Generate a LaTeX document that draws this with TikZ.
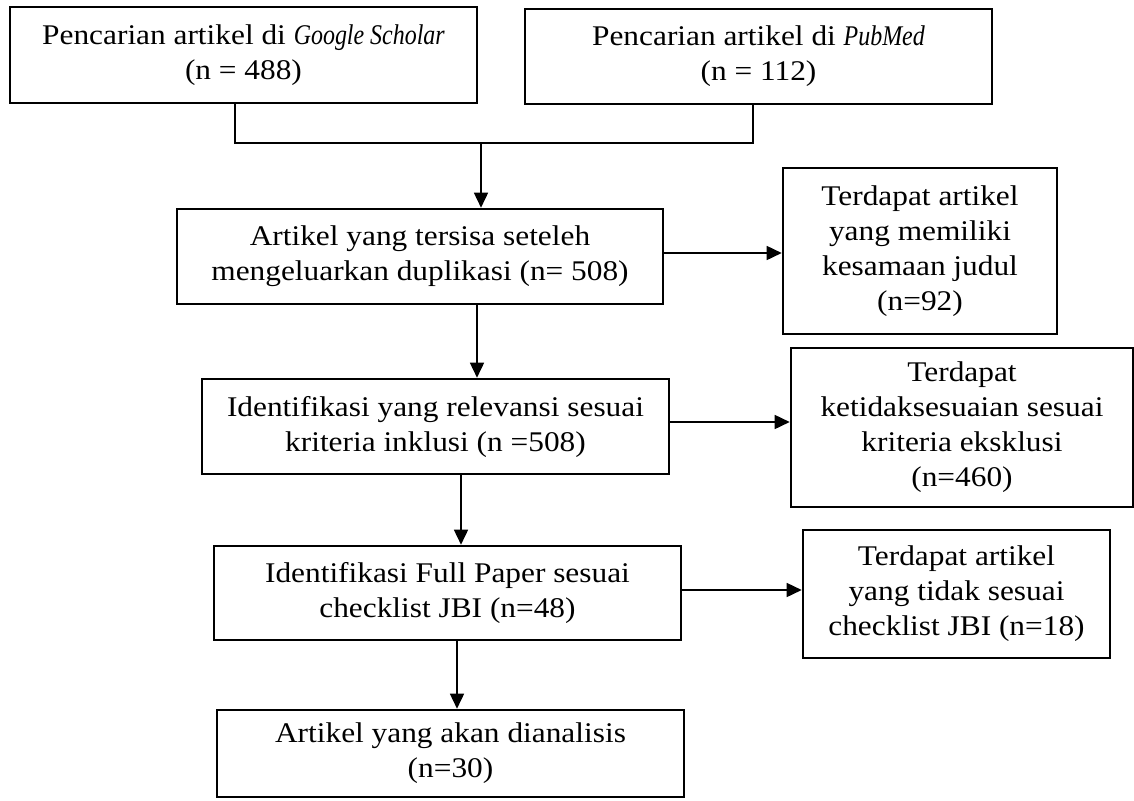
\documentclass[tikz,border=0pt]{standalone}
\usepackage{fontspec}
\setmainfont{Liberation Serif}[UprightFeatures={FakeStretch=1.1}, ItalicFeatures={FakeStretch=0.84}]
\usetikzlibrary{arrows.meta}
\begin{document}
\begin{tikzpicture}[x=1pt,y=-1pt,
  box/.style={draw=black, line width=2.6pt, rectangle, inner sep=0pt, align=center,
    font=\fontsize{28.5}{35}\selectfont},
  conn/.style={draw=black, line width=1.6pt},
  arr/.style={conn, -{Triangle[length=15pt,width=14pt]}}]
\useasboundingbox (0,0) rectangle (1134,800);
\fill[white] (0,0) rectangle (1134,800);

\node[box, minimum width=467pt, minimum height=96pt] (A) at (243.5,55) {Pencarian artikel di \textit{Google Scholar}\\(n = 488)};
\node[box, minimum width=467pt, minimum height=95pt] (B) at (758.5,56.5) {Pencarian artikel di \textit{PubMed}\\(n = 112)};
\node[box, minimum width=486pt, minimum height=95pt] (D) at (420,256.5) {Artikel yang tersisa seteleh\\mengeluarkan duplikasi (n= 508)};
\node[box, minimum width=274pt, minimum height=166pt] (C) at (920,251) {Terdapat artikel\\yang memiliki\\kesamaan judul\\(n=92)};
\node[box, minimum width=467pt, minimum height=95pt] (E) at (435.5,426.5) {Identifikasi yang relevansi sesuai\\kriteria inklusi (n =508)};
\node[box, minimum width=342pt, minimum height=159pt] (F) at (962,427.5) {Terdapat\\ketidaksesuaian sesuai\\kriteria eksklusi\\(n=460)};
\node[box, minimum width=467pt, minimum height=94pt] (H) at (447.5,593) {Identifikasi Full Paper sesuai\\checklist JBI (n=48)};
\node[box, minimum width=307pt, minimum height=128pt] (G) at (956.5,594) {Terdapat artikel\\yang tidak sesuai\\checklist JBI (n=18)};
\node[box, minimum width=467pt, minimum height=87pt] (I) at (450.5,753.5) {Artikel yang akan dianalisis\\(n=30)};

\coordinate (j1) at (235,143);
\coordinate (j2) at (753,143);
\coordinate (j3) at (481,143);
\coordinate (xDE) at (477,0);
\coordinate (xEH) at (461,0);
\coordinate (xHI) at (457,0);
\coordinate (yDC) at (0,253);
\coordinate (yEF) at (0,422);
\coordinate (yHG) at (0,590);

\draw[conn] (A.south -| j1) -- (j1) -- (j2) -- (B.south -| j2);
\draw[arr] (j3) -- (D.north -| j3);
\draw[arr] (D.south -| xDE) -- (E.north -| xDE);
\draw[arr] (E.south -| xEH) -- (H.north -| xEH);
\draw[arr] (H.south -| xHI) -- (I.north -| xHI);
\draw[arr] (D.east |- yDC) -- (C.west |- yDC);
\draw[arr] (E.east |- yEF) -- (F.west |- yEF);
\draw[arr] (H.east |- yHG) -- (G.west |- yHG);
\end{tikzpicture}
\end{document}
